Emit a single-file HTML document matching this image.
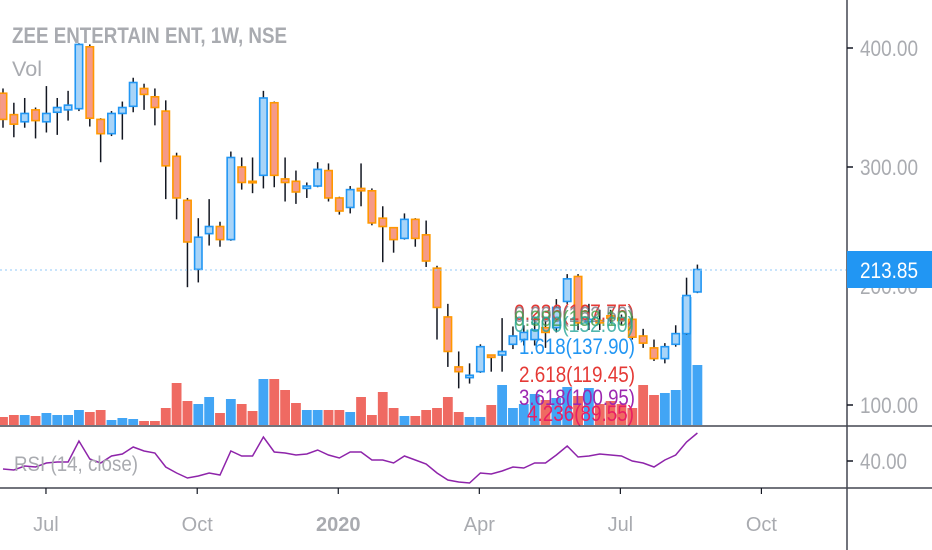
<!DOCTYPE html>
<html><head><meta charset="utf-8"><style>
html,body{margin:0;padding:0;background:#fff;width:932px;height:550px;overflow:hidden}
svg{display:block;font-family:"Liberation Sans",sans-serif}
</style></head><body>
<svg id="chart" width="932" height="550" viewBox="0 0 932 550">
<g id="vol"></g>
<g id="candles"></g>
<line x1="0" y1="270" x2="846" y2="270" stroke="#90caf9" stroke-width="1" stroke-dasharray="2,3"/>
<g id="fib" font-size="22">
<text x="514" y="320" fill="#e53935" textLength="120" lengthAdjust="spacingAndGlyphs">0.236(167.75)</text>
<text x="514" y="322" fill="#787b86" textLength="120" lengthAdjust="spacingAndGlyphs" opacity="0.8">0.000(162.50)</text>
<text x="514" y="326" fill="#43a047" textLength="120" lengthAdjust="spacingAndGlyphs" opacity="0.8">0.382(158.10)</text>
<text x="514" y="332" fill="#26a69a" textLength="120" lengthAdjust="spacingAndGlyphs" opacity="0.8">0.500(152.60)</text>
<text x="519" y="354" fill="#2196f3" textLength="116" lengthAdjust="spacingAndGlyphs">1.618(137.90)</text>
<text x="519" y="382" fill="#e53935" textLength="116" lengthAdjust="spacingAndGlyphs">2.618(119.45)</text>
<text x="519" y="405" fill="#9c27b0" textLength="116" lengthAdjust="spacingAndGlyphs">3.618(100.95)</text>
<text x="527" y="421" fill="#e91e63" textLength="107" lengthAdjust="spacingAndGlyphs">4.236(89.55)</text>
</g>
<polyline id="rsi" fill="none" stroke="#8e24aa" stroke-width="1.5"/>
<line x1="0" y1="426" x2="932" y2="426" stroke="#434651" stroke-width="1.5"/>
<line x1="0" y1="488" x2="932" y2="488" stroke="#434651" stroke-width="1.5"/>
<line x1="847" y1="0" x2="847" y2="550" stroke="#434651" stroke-width="1.5"/>
<g id="yaxis" font-size="22" fill="#a9abb0"></g>
<g id="xaxis" font-size="20" fill="#a9abb0"></g>
<rect x="847" y="251" width="85" height="37" fill="#2196f3"/>
<text x="860" y="278" fill="#fff" font-size="22" textLength="58" lengthAdjust="spacingAndGlyphs">213.85</text>
<text x="12" y="43" fill="#a9abb0" font-size="22" font-weight="bold" textLength="275" lengthAdjust="spacingAndGlyphs">ZEE ENTERTAIN ENT, 1W, NSE</text>
<text x="12" y="76" fill="#a9abb0" font-size="21" textLength="30" lengthAdjust="spacingAndGlyphs">Vol</text>
<text x="14" y="471" fill="#a9abb0" font-size="21" textLength="124" lengthAdjust="spacingAndGlyphs">RSI (14, close)</text>
</svg>
<script>
const opens  = [362,344,338,348,338,346,348,349,401,340,328,345,351,366,359,347,309,272,214,244,250,239,300,288,293,354,290,288,282,284,297,274,266,282,280,257,249,240,256,243,215,174,132,123,128,142,142,151,155,155,165,165,187,208,170,171,175,173,172,158,148,139,151,160,195];
const closes = [340,336,345,339,345,350,352,403,341,328,345,350,371,361,350,301,274,237,241,250,239,308,287,287,358,293,287,279,284,298,274,263,281,280,253,250,239,256,240,221,182,145,128,125,149,140,145,158,161,163,161,182,206,169,172,169,173,171,157,152,139,149,160,192,213.85];
const highs  = [366,354,358,350,368,358,364,404,403,341,347,355,375,370,366,356,312,274,257,273,254,313,308,308,364,355,308,297,287,304,303,275,284,303,282,267,249,261,257,255,217,185,145,135,151,142,173,166,167,173,171,189,210,210,185,180,180,176,175,164,155,152,167,207,218];
const lows   = [333,325,333,324,329,327,339,347,334,304,326,323,346,348,335,273,256,199,203,234,233,238,281,278,282,283,271,269,274,283,271,260,261,267,251,220,228,239,233,216,155,132,114,118,127,128,128,147,150,150,148,161,185,163,163,163,169,167,155,148,137,135,149,159,194];
const volumes = [8,10,10,9,12,10,10,15,13,15,5,7,6,4,4,17,42,24,21,28,12,26,21,14,46,46,35,22,15,15,15,15,13,28,10,33,17,9,9,15,17,28,13,8,8,20,40,17,21,31,25,27,38,29,37,21,24,21,17,40,30,32,35,128,60];
const rsiValues = [32,31,35,34,38,39,39,60,42,38,45,47,54,50,48,34,28,23,25,28,26,50,45,45,64,49,48,46,47,51,46,43,49,49,41,41,38,45,41,37,28,21,19,18,28,27,30,34,33,38,38,46,55,44,45,47,46,45,40,38,34,41,46,59,68];
const priceTicks = [400,300,200,100];
const priceTickLabels = ["400.00","300.00","200.00","100.00"];
const rsiTicks = [40];
const rsiTickLabels = ["40.00"];
const timeTickIdx = [3.96,17.9,30.9,43.9,56.9,69.9];
const timeTickLabels = ["Jul","Oct","2020","Apr","Jul","Oct"];

const NS="http://www.w3.org/2000/svg";
const xOf = i => 3 + 10.85*i;
const yP = p => 167 - (p-300)*1.19;
const yV = v => 425 - v;
const yR = r => 461 - (r-40);
function mk(tag, attrs, parent){const e=document.createElementNS(NS,tag);for(const k in attrs)e.setAttribute(k,attrs[k]);parent.appendChild(e);return e;}

const vg=document.getElementById('vol');
volumes.forEach((v,i)=>{
  const up = closes[i]>=opens[i];
  const r=mk('rect',{x:xOf(i)-4.9,y:yV(v),width:9.8,height:v,fill:up?'#42a5f5':'#ef6a62'},vg);
  
  
});
const cg=document.getElementById('candles');
opens.forEach((o,i)=>{
  const c=closes[i], up=c>=o, x=xOf(i);
  const w=mk('line',{x1:x,x2:x,y1:yP(highs[i]),y2:yP(lows[i]),stroke:'#131722','stroke-width':1.5},cg);
  
  
  const top=yP(Math.max(o,c)), bot=yP(Math.min(o,c));
  const b=mk('rect',{x:x-3.7,y:top,width:7.4,height:Math.max(bot-top,1.5),fill:up?'#a8d4f8':'#f59a88',stroke:up?'#2196f3':'#ff9800','stroke-width':1.6},cg);
  
  
});
document.getElementById('rsi').setAttribute('points',rsiValues.map((r,i)=>xOf(i)+','+yR(r)).join(' '));
const ya=document.getElementById('yaxis');
priceTicks.forEach((p,i)=>{
  const y=yP(p);
  const t=mk('line',{x1:847,x2:853,y1:y,y2:y,stroke:'#131722','stroke-width':1.5},ya);
  
  
  const l=mk('text',{x:860,y:y+8,textLength:58,lengthAdjust:'spacingAndGlyphs'},ya); l.textContent=priceTickLabels[i];
  
  
});
rsiTicks.forEach((r,i)=>{
  const y=yR(r);
  const t=mk('line',{x1:847,x2:853,y1:y,y2:y,stroke:'#131722','stroke-width':1.5},ya);
  
  
  const l=mk('text',{x:860,y:y+8,textLength:47,lengthAdjust:'spacingAndGlyphs'},ya); l.textContent=rsiTickLabels[i];
  
  
});
const xa=document.getElementById('xaxis');
timeTickIdx.forEach((k,i)=>{
  const x=xOf(k);
  const t=mk('line',{x1:x,x2:x,y1:488,y2:494,stroke:'#131722','stroke-width':1.2},xa);
  
  
  const l=mk('text',{x:x,y:531,'text-anchor':'middle'},xa); l.textContent=timeTickLabels[i];
  if(timeTickLabels[i]==='2020') l.setAttribute('font-weight','bold');
  
  
});
</script>
</body></html>
